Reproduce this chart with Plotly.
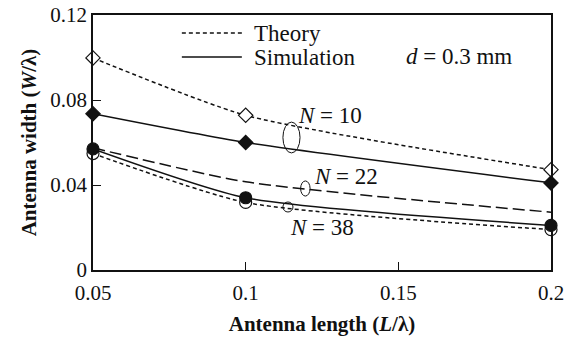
import plotly.graph_objects as go

# Antenna length (L/lambda) sample points
length = [0.05, 0.1, 0.2]

# Antenna width (W/lambda) for each turn count
n10_theory = [0.0998, 0.0728, 0.0472]
n10_sim = [0.0735, 0.0600, 0.0410]
n22_theory = [0.0575, 0.0415, 0.0272]
n38_theory = [0.0548, 0.0318, 0.0190]
n38_sim = [0.0570, 0.0340, 0.0210]

FONT = "Liberation Serif, Times New Roman, serif"
BLACK = "#111111"
DOT = "4px,3px"
LONG = "12px,5px"

fig = go.Figure()

def add(y, dash, symbol=None, fill="white"):
    mode = "lines+markers" if symbol else "lines"
    fig.add_trace(go.Scatter(
        x=length, y=y, mode=mode,
        line=dict(color=BLACK, width=1.5, dash=dash, shape="spline", smoothing=0.6),
        marker=dict(symbol=symbol or "circle", size=11 if symbol and "diamond" in symbol else 12,
                    color=fill, line=dict(color=BLACK, width=1.2)),
        cliponaxis=False, showlegend=False, hoverinfo="skip"))

add(n10_theory, DOT, "diamond", "white")
add(n10_sim, "solid", "diamond", BLACK)
add(n22_theory, LONG)
add(n38_theory, DOT, "circle", "white")
add(n38_sim, "solid", "circle", BLACK)

# Legend samples
for yp, dash, label in [(0.929, DOT, "Theory"), (0.835, "solid", "Simulation")]:
    fig.add_shape(type="line", xref="paper", yref="paper", x0=0.194, x1=0.325, y0=yp, y1=yp,
                  line=dict(color=BLACK, width=1.5, dash=dash))
    fig.add_annotation(xref="paper", yref="paper", x=0.347, y=yp, text=label, showarrow=False,
                       xanchor="left", yanchor="middle", font=dict(family=FONT, size=23, color=BLACK))

# Group markers
for x0, x1, y0, y1 in [(0.1122, 0.1178, 0.0551, 0.0696),
                       (0.1180, 0.1211, 0.0348, 0.0419),
                       (0.1122, 0.1155, 0.0273, 0.0320)]:
    fig.add_shape(type="circle", xref="x", yref="y", x0=x0, x1=x1, y0=y0, y1=y1,
                  line=dict(color=BLACK, width=1))

labels = [(0.1276, 0.0725, "<i>N</i> = 10"),
          (0.1329, 0.0438, "<i>N</i> = 22"),
          (0.1250, 0.0202, "<i>N</i> = 38"),
          (0.1700, 0.1007, "<i>d</i> = 0.3 mm")]
for x, y, t in labels:
    fig.add_annotation(x=x, y=y, text=t, showarrow=False, xanchor="center", yanchor="middle",
                       font=dict(family=FONT, size=23, color=BLACK))

axis_common = dict(showline=True, linecolor=BLACK, linewidth=1.5, mirror=True,
                   ticks="inside", ticklen=8, tickcolor=BLACK, tickwidth=1.2,
                   showgrid=False, zeroline=False, automargin=False,
                   tickfont=dict(family=FONT, size=21, color=BLACK))

fig.update_xaxes(range=[0.05, 0.2], tickvals=[0.05, 0.1, 0.15, 0.2],
                 ticktext=["0.05", "0.1", "0.15", "0.2"], ticklabelstandoff=3,
                 title=dict(text="<b>Antenna length (<i>L</i>/λ)</b>", standoff=12,
                            font=dict(family=FONT, size=21, color=BLACK)),
                 **axis_common)
fig.update_yaxes(range=[0, 0.12], tickvals=[0, 0.04, 0.08, 0.12],
                 ticktext=["0", "0.04", "0.08", "0.12"],
                 title=dict(text="<b>Antenna width (<i>W</i>/λ)</b>", standoff=8,
                            font=dict(family=FONT, size=21, color=BLACK)),
                 **axis_common)

fig.update_layout(width=565, height=340, margin=dict(l=93, r=14, t=15, b=70),
                  paper_bgcolor="white", plot_bgcolor="white")

fig.write_html("out.html")
